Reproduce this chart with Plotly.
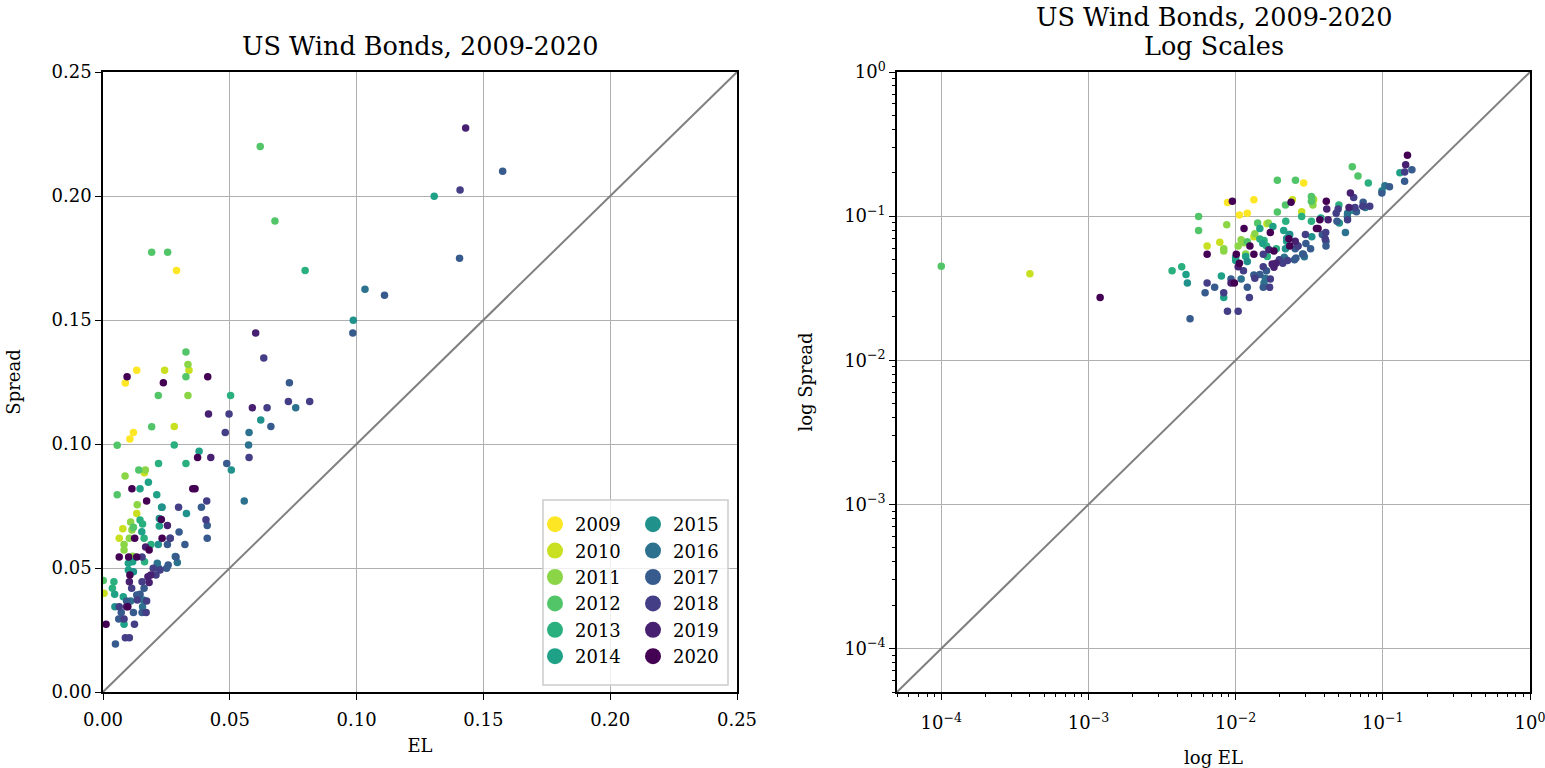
import math
import plotly.graph_objects as go

# ---------------- data (EL, Spread) per issue year ----------------
years = [2009, 2010, 2011, 2012, 2013, 2014, 2015, 2016, 2017, 2018, 2019, 2020]

el_2009 = [0.029, 0.0133, 0.0088, 0.012, 0.0106]
sp_2009 = [0.170, 0.1297, 0.1246, 0.1046, 0.1020]

el_2010 = [0.0243, 0.0339, 0.0281, 0.0133, 0.0078, 0.0064, 0.0004, 0.0163]
sp_2010 = [0.1297, 0.1297, 0.1071, 0.0720, 0.0658, 0.0620, 0.0398, 0.0884]

el_2011 = [0.0335, 0.0335, 0.0087, 0.0167, 0.0135, 0.0109, 0.0114, 0.0104, 0.0083, 0.0083, 0.0117]
sp_2011 = [0.1321, 0.1196, 0.0871, 0.0895, 0.0755, 0.0685, 0.0653, 0.0620, 0.0595, 0.0573, 0.0547]

el_2012 = [0.062, 0.0678, 0.0192, 0.0255, 0.0327, 0.0327, 0.0218, 0.0192, 0.0056, 0.0141, 0.0056, 0.012, 0.0001]
sp_2012 = [0.220, 0.1899, 0.1773, 0.1773, 0.1371, 0.1271, 0.1196, 0.1070, 0.0995, 0.0895, 0.0795, 0.0664, 0.045]

el_2013 = [0.0797, 0.0503, 0.0281, 0.0327, 0.0219, 0.0146, 0.0156, 0.0162, 0.0189, 0.0164, 0.0043, 0.0037]
sp_2013 = [0.170, 0.1196, 0.0996, 0.0921, 0.0921, 0.0694, 0.0677, 0.0620, 0.0595, 0.0525, 0.0445, 0.0418]

el_2014 = [0.1306, 0.0379, 0.0179, 0.0146, 0.0212, 0.0231, 0.0153, 0.0117, 0.0100, 0.0100, 0.0046, 0.0080, 0.0083, 0.0222]
sp_2014 = [0.1999, 0.0971, 0.0846, 0.0820, 0.0795, 0.0745, 0.0646, 0.0525, 0.0519, 0.0492, 0.0394, 0.0384, 0.0273, 0.0669]

el_2015 = [0.0987, 0.0622, 0.0506, 0.0329, 0.0218, 0.012, 0.0047, 0.0233, 0.0222]
sp_2015 = [0.1499, 0.1097, 0.0895, 0.0720, 0.0595, 0.0485, 0.0344, 0.0745, 0.0700]

el_2016 = [0.1033, 0.076, 0.0576, 0.0574, 0.0557, 0.0214, 0.022, 0.0109, 0.0156, 0.0159, 0.0293, 0.0285]
sp_2016 = [0.1624, 0.1146, 0.1046, 0.0996, 0.0770, 0.0519, 0.0499, 0.0367, 0.0344, 0.0371, 0.0522, 0.0546]

el_2017 = [0.1576, 0.111, 0.1406, 0.0985, 0.0735, 0.0662, 0.0488, 0.0388, 0.0411, 0.030, 0.0411, 0.0265,
           0.0323, 0.0254, 0.0251, 0.0257, 0.0133, 0.0162, 0.0093, 0.0146, 0.0072, 0.012, 0.0154, 0.0062,
           0.0049, 0.0288]
sp_2017 = [0.210, 0.160, 0.1749, 0.1448, 0.1247, 0.1071, 0.0921, 0.0745, 0.0671, 0.0645, 0.0620, 0.0620,
           0.0595, 0.0595, 0.0499, 0.0512, 0.0391, 0.0418, 0.0367, 0.0394, 0.0321, 0.0321, 0.0321, 0.0294,
           0.0194, 0.0544]

el_2018 = [0.1408, 0.0634, 0.0731, 0.0815, 0.0647, 0.0497, 0.0482, 0.0576, 0.0409, 0.0298, 0.0406, 0.0154,
           0.0198, 0.0209, 0.0113, 0.0154, 0.0135, 0.0172, 0.0064, 0.017, 0.0083, 0.0124, 0.0088, 0.0104,
           0.0225, 0.0265]
sp_2018 = [0.2024, 0.1347, 0.1171, 0.1171, 0.1146, 0.1121, 0.1046, 0.0946, 0.0770, 0.0745, 0.0695, 0.0544,
           0.0499, 0.0472, 0.0418, 0.0445, 0.0371, 0.0367, 0.0344, 0.0321, 0.0294, 0.0273, 0.0219, 0.0219,
           0.0492, 0.0620]

el_2019 = [0.143, 0.0602, 0.0589, 0.0416, 0.0425, 0.0254, 0.0168, 0.0177, 0.0188, 0.0104, 0.0182, 0.0093]
sp_2019 = [0.2274, 0.1448, 0.1146, 0.1121, 0.0946, 0.0671, 0.0585, 0.0465, 0.0472, 0.0445, 0.0442, 0.0344]

el_2020 = [0.147, 0.0095, 0.0238, 0.0413, 0.0373, 0.0354, 0.0363, 0.0114, 0.0172, 0.023, 0.0125, 0.0233,
           0.0182, 0.0064, 0.0101, 0.0133, 0.0106, 0.0012, 0.0098]
sp_2020 = [0.265, 0.1271, 0.1247, 0.1271, 0.0946, 0.0820, 0.0820, 0.0820, 0.0770, 0.0696, 0.0620, 0.0620,
           0.0573, 0.0544, 0.0544, 0.0544, 0.0472, 0.0273, 0.0344]

el_by_year = [el_2009, el_2010, el_2011, el_2012, el_2013, el_2014, el_2015, el_2016, el_2017, el_2018, el_2019, el_2020]
sp_by_year = [sp_2009, sp_2010, sp_2011, sp_2012, sp_2013, sp_2014, sp_2015, sp_2016, sp_2017, sp_2018, sp_2019, sp_2020]

lin_range = [0.0, 0.25]
lin_ticks = [0.0, 0.05, 0.10, 0.15, 0.20, 0.25]
log_range = [5e-5, 1.0]
log_exps = [-4, -3, -2, -1, 0]

# ---------------- style ----------------
colors = ["#fde725", "#c8e020", "#8bd646", "#52c569", "#2ab07f", "#1fa187",
          "#21918c", "#2c728e", "#375b8d", "#433e85", "#482071", "#440154"]
FONT = "DejaVu Serif"
W, H = 1545, 768
TICK = 18
TITLE = 25.5


def px_x(p):
    return p / W


def px_y(p):
    return 1 - p / H


fig = go.Figure()

for i, yr in enumerate(years):
    for ax in ("1", "2"):
        fig.add_trace(go.Scatter(
            x=el_by_year[i], y=sp_by_year[i], mode="markers",
            marker=dict(size=7.5, color=colors[i], line=dict(width=0)),
            xaxis="x" if ax == "1" else "x2", yaxis="y" if ax == "1" else "y2",
            showlegend=False, cliponaxis=True, hoverinfo="x+y+name", name=str(yr)))

# diagonal y = x
fig.add_trace(go.Scatter(x=lin_range, y=lin_range, mode="lines",
                         line=dict(color="#808080", width=2), showlegend=False,
                         xaxis="x", yaxis="y", hoverinfo="skip"))
fig.add_trace(go.Scatter(x=log_range, y=log_range, mode="lines",
                         line=dict(color="#808080", width=2), showlegend=False,
                         xaxis="x2", yaxis="y2", hoverinfo="skip"))

# legend entries (two columns)
for i, yr in enumerate(years):
    fig.add_trace(go.Scatter(x=[None], y=[None], mode="markers",
                             marker=dict(size=18, color=colors[i]),
                             name=str(yr), showlegend=True,
                             legend="legend" if i < 6 else "legend2",
                             xaxis="x", yaxis="y"))

dom_l = [px_x(103), px_x(737)]
dom_r = [px_x(897), px_x(1530)]
dom_y = [px_y(692), px_y(72)]

tf = dict(family=FONT, size=TICK, color="black")
axis_common = dict(showline=True, linecolor="black", linewidth=1.5, mirror=True,
                   ticks="outside", ticklen=6, tickwidth=1.3, tickcolor="black",
                   showgrid=True, gridcolor="#b0b0b0", gridwidth=1, zeroline=False,
                   automargin=False, tickfont=tf, ticklabeloverflow="allow")

lin_axis = dict(axis_common, range=lin_range, tickvals=lin_ticks, tickformat=".2f")

major_vals = [10.0 ** e for e in log_exps]
major_text = ["10<sup>\u2212%d</sup>" % (-e) if e < 0 else "10<sup>%d</sup>" % e for e in log_exps]
minor_vals = [k * 10.0 ** e for e in range(-5, 0) for k in range(2, 10)
              if log_range[0] <= k * 10.0 ** e <= log_range[1]]
log_axis = dict(axis_common, type="log",
                range=[math.log10(log_range[0]), math.log10(log_range[1])],
                tickmode="array", tickvals=major_vals, ticktext=major_text,
                minor=dict(tickmode="array", tickvals=minor_vals, ticks="outside",
                           ticklen=3.5, tickwidth=1, tickcolor="black", showgrid=False))

fig.update_layout(
    width=W, height=H, margin=dict(l=0, r=0, t=0, b=0),
    paper_bgcolor="white", plot_bgcolor="white",
    font=dict(family=FONT, color="black"),
    xaxis=dict(lin_axis, domain=dom_l, anchor="y", ticklabelstandoff=5,
               title=dict(text="EL", font=tf, standoff=10)),
    yaxis=dict(lin_axis, domain=dom_y, anchor="x",
               title=dict(text="Spread", font=tf, standoff=26)),
    xaxis2=dict(log_axis, domain=dom_r, anchor="y2", ticklabelstandoff=8,
                title=dict(text="log EL", font=tf, standoff=20)),
    yaxis2=dict(log_axis, domain=dom_y, anchor="x2",
                title=dict(text="log Spread", font=tf, standoff=27)),
    legend=dict(x=px_x(535), y=px_y(506), xanchor="left", yanchor="top",
                bgcolor="rgba(0,0,0,0)", borderwidth=0, font=tf,
                itemsizing="trace", tracegroupgap=0),
    legend2=dict(x=px_x(633), y=px_y(506), xanchor="left", yanchor="top",
                 bgcolor="rgba(0,0,0,0)", borderwidth=0, font=tf,
                 itemsizing="trace", tracegroupgap=0),
    shapes=[dict(type="rect", xref="paper", yref="paper",
                 x0=px_x(543), x1=px_x(728), y0=px_y(685), y1=px_y(500),
                 line=dict(color="#cccccc", width=1.5),
                 fillcolor="rgba(255,255,255,0.8)", layer="above")],
    annotations=[
        dict(text="US Wind Bonds, 2009-2020", xref="paper", yref="paper",
             x=(dom_l[0] + dom_l[1]) / 2, y=px_y(46), xanchor="center", yanchor="middle",
             showarrow=False, font=dict(family=FONT, size=TITLE, color="black")),
        dict(text="US Wind Bonds, 2009-2020", xref="paper", yref="paper",
             x=(dom_r[0] + dom_r[1]) / 2, y=px_y(17), xanchor="center", yanchor="middle",
             showarrow=False, font=dict(family=FONT, size=TITLE, color="black")),
        dict(text="Log Scales", xref="paper", yref="paper",
             x=(dom_r[0] + dom_r[1]) / 2, y=px_y(46), xanchor="center", yanchor="middle",
             showarrow=False, font=dict(family=FONT, size=TITLE, color="black")),
    ],
)

fig.write_html("out.html")
